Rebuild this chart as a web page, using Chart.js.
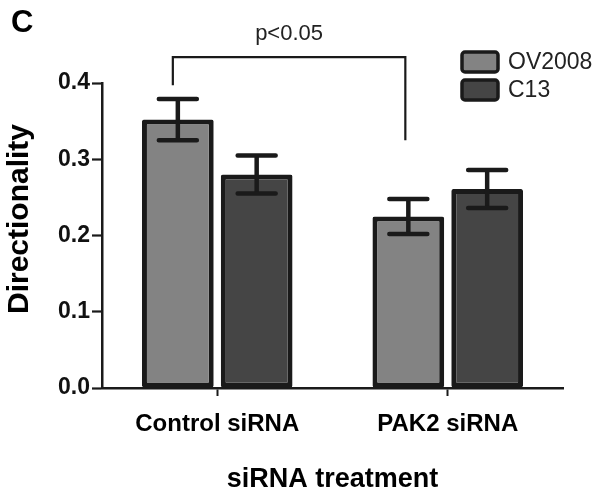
<!DOCTYPE html>
<html>
<head>
<meta charset="utf-8">
<script src="https://cdn.jsdelivr.net/npm/chart.js@4/dist/chart.umd.min.js"></script>
<style>
  html, body { margin: 0; padding: 0; background: #ffffff; }
  #wrap { width: 602px; height: 496px; }
</style>
</head>
<body>
<div id="wrap"><canvas id="c" width="602" height="496"></canvas></div>
<script>
// ---- data ----
const categories = ["Control siRNA", "PAK2 siRNA"];
const seriesNames = ["OV2008", "C13"];
const ov2008Values = [0.352, 0.225];
const ov2008Errors = [0.027, 0.023];
const c13Values = [0.280, 0.261];
const c13Errors = [0.025, 0.025];
const yTicks = [0.0, 0.1, 0.2, 0.3, 0.4];
const yTitle = "Directionality";
const xTitle = "siRNA treatment";
const pLabel = "p<0.05";
// bracket: compares OV2008 Control (index 0) vs OV2008 PAK2 (index 1)
const bracketTopValue = 0.434;
const bracketLeftEndValue = 0.397;
const bracketRightEndValue = 0.325;

const FONT = "'Liberation Sans', Arial, Helvetica, sans-serif";
const INK = "#1a1a1a";

const errorBarPlugin = {
  id: 'errorBars',
  afterDatasetsDraw(chart) {
    const ctx = chart.ctx;
    const yScale = chart.scales.y;
    const errs = [ov2008Errors, c13Errors];
    ctx.save();
    ctx.strokeStyle = INK;
    ctx.lineWidth = 4.5;
    chart.data.datasets.forEach((ds, di) => {
      const meta = chart.getDatasetMeta(di);
      meta.data.forEach((bar, i) => {
        const v = ds.data[i];
        const e = errs[di][i];
        const x = bar.x;
        const yTop = yScale.getPixelForValue(v + e);
        const yBot = yScale.getPixelForValue(v - e);
        const half = 19;
        ctx.lineCap = 'butt';
        ctx.beginPath();
        ctx.moveTo(x, yTop); ctx.lineTo(x, yBot);
        ctx.stroke();
        ctx.lineCap = 'round';
        ctx.beginPath();
        ctx.moveTo(x - half, yTop); ctx.lineTo(x + half, yTop);
        ctx.moveTo(x - half, yBot); ctx.lineTo(x + half, yBot);
        ctx.stroke();
      });
    });
    ctx.restore();
  }
};

const annotPlugin = {
  id: 'annot',
  afterDraw(chart) {
    const ctx = chart.ctx;
    const yScale = chart.scales.y;
    const meta0 = chart.getDatasetMeta(0);
    const xL = meta0.data[0].x - 5;
    const xR = meta0.data[1].x - 3;
    const yT = yScale.getPixelForValue(bracketTopValue);
    const yLE = yScale.getPixelForValue(bracketLeftEndValue);
    const yRE = yScale.getPixelForValue(bracketRightEndValue);
    ctx.save();
    ctx.strokeStyle = INK;
    ctx.lineWidth = 2.2;
    ctx.beginPath();
    ctx.moveTo(xL, yLE); ctx.lineTo(xL, yT); ctx.lineTo(xR, yT); ctx.lineTo(xR, yRE);
    ctx.stroke();
    ctx.fillStyle = "#222";
    ctx.font = "22px " + FONT;
    ctx.textAlign = 'center';
    ctx.textBaseline = 'alphabetic';
    ctx.fillText(pLabel, (xL + xR) / 2, yT - 17);

    // panel letter
    ctx.fillStyle = "#000";
    ctx.font = "bold 31px " + FONT;
    ctx.textAlign = 'left';
    ctx.fillText("C", 11, 32);

    // y axis title
    ctx.save();
    ctx.translate(20, 219);
    ctx.rotate(-Math.PI / 2);
    ctx.font = "bold 30px " + FONT;
    ctx.textAlign = 'center';
    ctx.textBaseline = 'middle';
    ctx.fillStyle = "#000";
    ctx.fillText(yTitle, 0, 0);
    ctx.restore();

    // legend
    const fills = chart.data.datasets.map(d => d.backgroundColor);
    const boxX = 462, boxW = 36, boxH = 20;
    const rowsY = [52, 80];
    ctx.font = "23px " + FONT;
    ctx.textBaseline = 'middle';
    ctx.textAlign = 'left';
    seriesNames.forEach((name, i) => {
      const y = rowsY[i];
      ctx.beginPath();
      ctx.roundRect(boxX, y, boxW, boxH, 3);
      ctx.fillStyle = fills[i];
      ctx.fill();
      ctx.lineWidth = 3.5;
      ctx.strokeStyle = INK;
      ctx.stroke();
      ctx.fillStyle = "#222";
      ctx.fillText(name, boxX + boxW + 10, y + boxH / 2 + 1);
    });
    ctx.restore();
  }
};

new Chart(document.getElementById('c'), {
  type: 'bar',
  data: {
    labels: categories,
    datasets: [
      {
        label: seriesNames[0],
        data: ov2008Values,
        backgroundColor: '#838383',
        borderColor: INK,
        borderWidth: 5,
        borderSkipped: false,
        borderRadius: 2,
        categoryPercentage: 0.684,
        barPercentage: 0.91
      },
      {
        label: seriesNames[1],
        data: c13Values,
        backgroundColor: '#454545',
        borderColor: INK,
        borderWidth: 5,
        borderSkipped: false,
        borderRadius: 2,
        categoryPercentage: 0.684,
        barPercentage: 0.91
      }
    ]
  },
  options: {
    responsive: false,
    animation: false,
    events: [],
    layout: { padding: { top: 83, right: 39, left: 0, bottom: 0 } },
    plugins: {
      legend: { display: false },
      tooltip: { enabled: false }
    },
    scales: {
      x: {
        offset: true,
        afterFit(scale) { scale.height = 108; },
        grid: {
          display: true,
          offset: false,
          drawOnChartArea: false,
          drawTicks: true,
          tickLength: 8,
          tickWidth: 2,
          tickColor: INK
        },
        border: { display: true, color: INK, width: 2.5 },
        ticks: {
          color: '#000',
          padding: 14,
          font: { family: FONT, size: 24, weight: 'bold' }
        },
        title: {
          display: true,
          text: xTitle,
          color: '#000',
          font: { family: FONT, size: 27, weight: 'bold', lineHeight: 1 },
          padding: { top: 0, bottom: 3 }
        }
      },
      y: {
        min: 0,
        max: 0.4,
        afterFit(scale) { scale.width = 102; },
        afterBuildTicks(scale) { scale.ticks = yTicks.map(v => ({ value: v })); },
        grid: {
          display: true,
          drawOnChartArea: false,
          drawTicks: true,
          tickLength: 10,
          tickWidth: 2.2,
          tickColor: INK
        },
        border: { display: true, color: INK, width: 2.5 },
        ticks: {
          color: '#111',
          padding: 2,
          font: { family: FONT, size: 23, weight: 'bold' },
          callback: (v) => Number(v).toFixed(1)
        },
        title: { display: false }
      }
    }
  },
  plugins: [errorBarPlugin, annotPlugin]
});
</script>
</body>
</html>
